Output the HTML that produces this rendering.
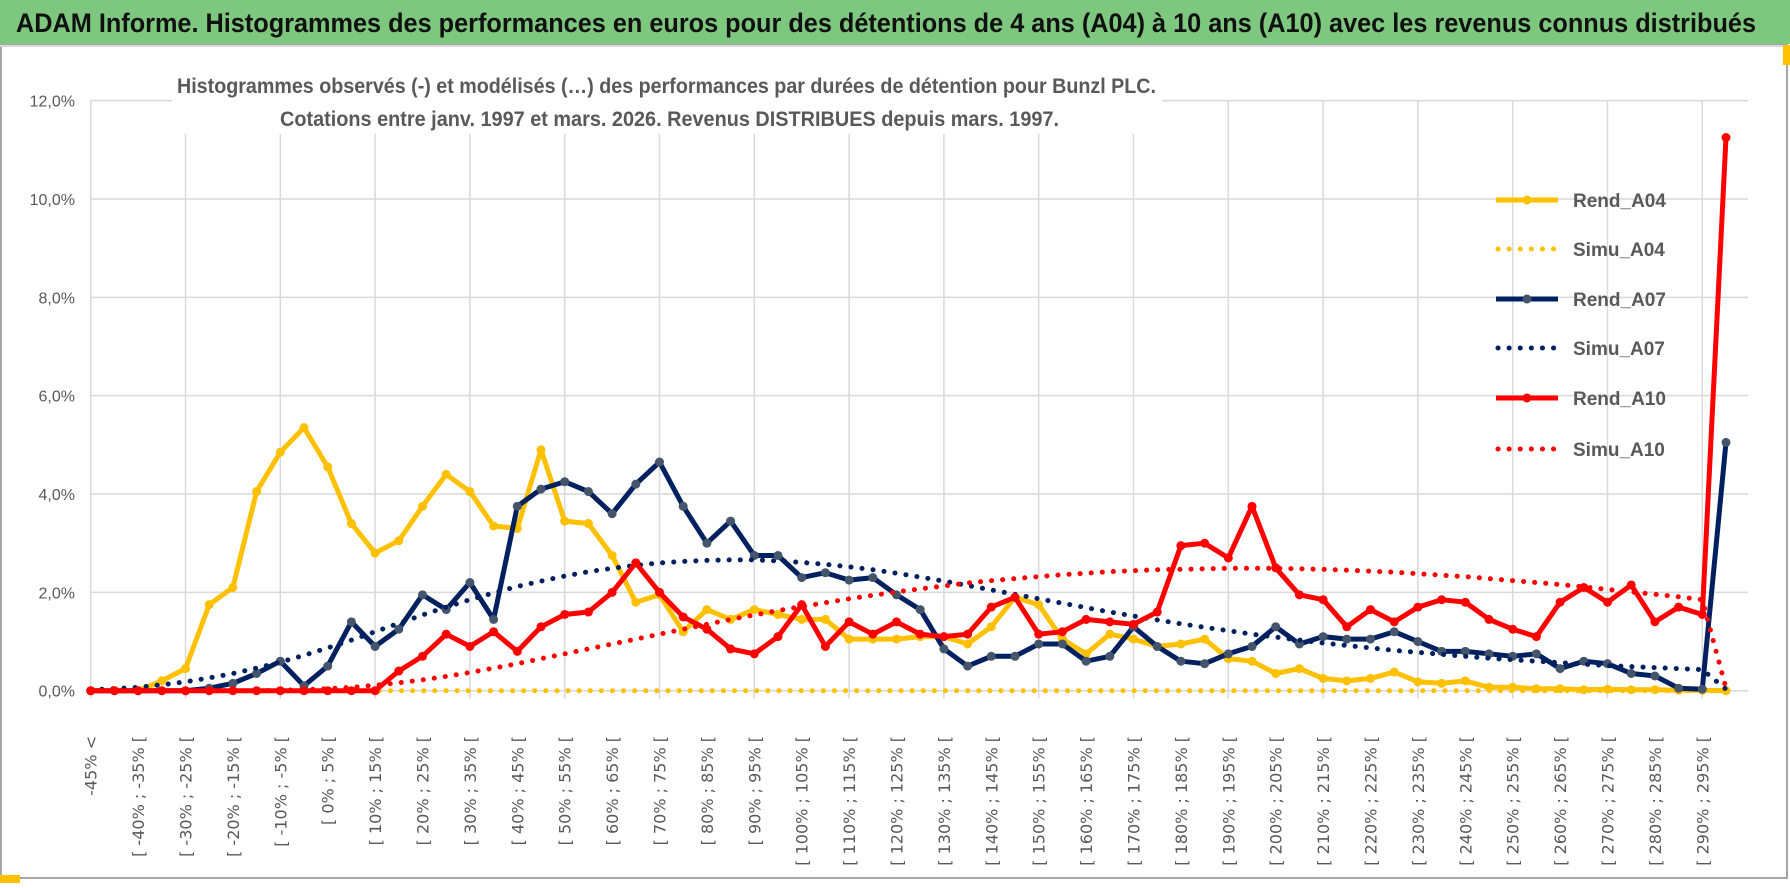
<!DOCTYPE html>
<html><head><meta charset="utf-8">
<style>
html,body{margin:0;padding:0;background:#fff;}
svg{display:block;}
</style></head>
<body>
<svg id="chart" width="1790" height="888" viewBox="0 0 1790 888" xmlns="http://www.w3.org/2000/svg">
  <rect x="0" y="0" width="1790" height="888" fill="#ffffff"/>
  <rect x="1" y="45" width="1786" height="833" fill="none" stroke="#a6a6a6" stroke-width="2"/>
  <rect x="0" y="0" width="1790" height="44" fill="#7dc87e"/>
  <line x1="0" y1="46" x2="1790" y2="46" stroke="#d9d9d9" stroke-width="2"/>
  <text x="16" y="32" font-family="Liberation Sans, sans-serif" font-size="27" font-weight="bold" fill="#111" textLength="1740" lengthAdjust="spacingAndGlyphs">ADAM Informe. Histogrammes des performances en euros pour des détentions de 4 ans (A04) à 10 ans (A10) avec les revenus connus distribués</text>
  <rect x="0" y="875" width="20" height="8" fill="#ffc000"/>
  <rect x="1783" y="45" width="7" height="20" fill="#ffc000"/>
  <g id="grid"></g>
  <g id="ylabels"></g>
  <g id="xlabels"></g>
  <rect x="172" y="64" width="990" height="70" fill="#ffffff"/>
  <text x="177" y="93" font-family="Liberation Sans, sans-serif" font-size="21" font-weight="bold" fill="#595959" textLength="979" lengthAdjust="spacingAndGlyphs">Histogrammes observés (-) et modélisés (…) des performances par durées de détention pour Bunzl PLC.</text>
  <text x="280" y="126" font-family="Liberation Sans, sans-serif" font-size="21" font-weight="bold" fill="#595959" textLength="779" lengthAdjust="spacingAndGlyphs">Cotations entre janv. 1997 et mars. 2026. Revenus DISTRIBUES depuis mars. 1997.</text>
  <g id="series"></g>
  <g id="legend"></g>
</svg>
<script>
const rendA04 = [0,0,0,0.2,0.45,1.75,2.1,4.05,4.85,5.35,4.55,3.4,2.8,3.05,3.75,4.4,4.05,3.35,3.3,4.9,3.45,3.4,2.75,1.8,1.95,1.2,1.65,1.45,1.65,1.55,1.45,1.45,1.05,1.05,1.05,1.1,1.1,0.95,1.3,1.9,1.75,1.05,0.75,1.15,1.05,0.9,0.95,1.05,0.65,0.6,0.35,0.45,0.25,0.2,0.25,0.38,0.18,0.15,0.2,0.07,0.07,0.04,0.04,0.02,0.03,0.02,0.02,0.01,0.01,0];
const simuA04 = [0,0,0,0,0,0,0,0,0,0,0,0,0,0,0,0,0,0,0,0,0,0,0,0,0,0,0,0,0,0,0,0,0,0,0,0,0,0,0,0,0,0,0,0,0,0,0,0,0,0,0,0,0,0,0,0,0,0,0,0,0,0,0,0,0,0,0,0,0,0];
const rendA07 = [0,0,0,0,0,0.05,0.15,0.35,0.6,0.1,0.5,1.4,0.9,1.25,1.95,1.65,2.2,1.45,3.75,4.1,4.25,4.05,3.6,4.2,4.65,3.75,3.0,3.45,2.75,2.75,2.3,2.4,2.25,2.3,1.95,1.65,0.85,0.5,0.7,0.7,0.95,0.95,0.6,0.7,1.3,0.9,0.6,0.55,0.75,0.9,1.3,0.95,1.1,1.05,1.05,1.2,1.0,0.8,0.8,0.75,0.7,0.75,0.45,0.6,0.55,0.35,0.3,0.05,0.03,5.05];
const simuA07 = [0.02,0.04,0.07,0.12,0.18,0.26,0.35,0.46,0.58,0.72,0.87,1.03,1.2,1.37,1.54,1.7,1.85,1.99,2.12,2.23,2.33,2.42,2.49,2.55,2.6,2.63,2.65,2.66,2.66,2.64,2.61,2.57,2.52,2.46,2.39,2.31,2.23,2.14,2.05,1.96,1.87,1.78,1.69,1.6,1.52,1.44,1.36,1.29,1.22,1.15,1.09,1.03,0.97,0.92,0.87,0.82,0.78,0.74,0.7,0.66,0.63,0.6,0.57,0.54,0.51,0.49,0.47,0.45,0.43,0.03];
const rendA10 = [0,0,0,0,0,0,0,0,0,0,0,0,0,0.4,0.7,1.15,0.9,1.2,0.8,1.3,1.55,1.6,2.0,2.6,2.0,1.5,1.25,0.85,0.75,1.1,1.75,0.9,1.4,1.15,1.4,1.15,1.1,1.15,1.7,1.9,1.15,1.2,1.45,1.4,1.35,1.6,2.95,3.0,2.7,3.75,2.5,1.95,1.85,1.3,1.65,1.4,1.7,1.85,1.8,1.45,1.25,1.1,1.8,2.1,1.8,2.15,1.4,1.7,1.55,11.25];
const simuA10 = [0,0,0,0,0,0,0,0,0.01,0.02,0.04,0.07,0.11,0.16,0.22,0.29,0.37,0.46,0.55,0.65,0.75,0.85,0.95,1.05,1.15,1.25,1.35,1.45,1.54,1.63,1.71,1.79,1.87,1.94,2.01,2.07,2.13,2.19,2.24,2.28,2.32,2.36,2.39,2.42,2.44,2.46,2.47,2.48,2.49,2.49,2.49,2.48,2.47,2.45,2.43,2.41,2.38,2.35,2.32,2.28,2.24,2.2,2.16,2.11,2.06,2.01,1.96,1.91,1.85,0.05];
const yTicks = [0,2,4,6,8,10,12];
const seriesNames = ["Rend_A04","Simu_A04","Rend_A07","Simu_A07","Rend_A10","Simu_A10"];

const NS = "http://www.w3.org/2000/svg";
const N = 70;
const X0 = 90.7, DX = 23.7, Y0 = 690.7, PER = 49.17, XR = 1748;
function xs(i){ return X0 + i*DX; }
function ys(v){ return Y0 - v*PER; }
function mk(tag, attrs, parent){ const e=document.createElementNS(NS,tag); for(const k in attrs) e.setAttribute(k,attrs[k]); parent.appendChild(e); return e; }
function catLabel(i){ if(i===0) return "-45% <"; const lo=-45+5*(i-1); return "[ "+lo+"% ; "+(lo+5)+"% ["; }

const grid=document.getElementById('grid');
yTicks.forEach(t=>{
  const l=mk('line',{x1:X0,x2:XR,y1:ys(t),y2:ys(t),stroke:'#d9d9d9','stroke-width':1.5},grid);
  
  
});
for(let i=0;i<N;i+=4){
  const l=mk('line',{x1:xs(i),x2:xs(i),y1:ys(12),y2:ys(0)+8,stroke:'#d9d9d9','stroke-width':1.5},grid);
  
  
}
const yl=document.getElementById('ylabels');
yTicks.forEach(t=>{
  const tx=mk('text',{x:75,y:ys(t)+6,'text-anchor':'end','font-family':'Liberation Sans, sans-serif','font-size':16,fill:'#595959'},yl);
  tx.textContent=t.toFixed(1).replace('.',',')+'%';
  
  
});
const xl=document.getElementById('xlabels');
for(let i=0;i<N;i+=2){
  const x=xs(i)+6, y=736;
  const tx=mk('text',{x:x,y:y,'text-anchor':'end','font-family':'DejaVu Sans, sans-serif','font-size':16,fill:'#595959',transform:'rotate(-90 '+x+' '+y+')'},xl);
  tx.textContent=catLabel(i);
  
  
}

const sg=document.getElementById('series');
function path(vals){ return vals.map((v,i)=>(i?'L':'M')+xs(i).toFixed(1)+' '+ys(v).toFixed(1)).join(' '); }
function dotted(vals,color,name){
  const p=mk('path',{d:path(vals),fill:'none',stroke:color,'stroke-width':5,'stroke-linecap':'round','stroke-dasharray':'0.1 11'},sg);
  
  
}
function solid(vals,color,mcolor,name){
  const g=mk('g',{},sg);
  
  
  mk('path',{d:path(vals),fill:'none',stroke:color,'stroke-width':5,'stroke-linejoin':'round'},g);
  vals.forEach((v,i)=>{
    const c=mk('circle',{cx:xs(i),cy:ys(v),r:4.5,fill:mcolor},g);
    
    
  });
}
solid(rendA04,'#ffc000','#ffc000','rend-a04-line');
dotted(simuA04,'#ffc000','simu-a04-line');
solid(rendA07,'#002060','#44546a','rend-a07-line');
dotted(simuA07,'#002060','simu-a07-line');
solid(rendA10,'#ff0000','#ff0000','rend-a10-line');
dotted(simuA10,'#ff0000','simu-a10-line');

const lg=document.getElementById('legend');
const legColors=['#ffc000','#ffc000','#002060','#002060','#ff0000','#ff0000'];
const legY=[200,249,299,348,398,449];
seriesNames.forEach((n,k)=>{
  const g=mk('g',{},lg);
  
  
  const y=legY[k];
  if(k%2===0){
    mk('line',{x1:1496,x2:1558,y1:y,y2:y,stroke:legColors[k],'stroke-width':5},g);
    mk('circle',{cx:1527,cy:y,r:4.5,fill:k===2?'#44546a':legColors[k]},g);
  } else {
    mk('line',{x1:1498,x2:1558,y1:y,y2:y,stroke:legColors[k],'stroke-width':5,'stroke-linecap':'round','stroke-dasharray':'0.1 11'},g);
  }
  const t=mk('text',{x:1573,y:y+7,'font-family':'Liberation Sans, sans-serif','font-size':19,'font-weight':'bold',fill:'#595959'},g);
  t.textContent=n;
});
</script>
</body></html>
